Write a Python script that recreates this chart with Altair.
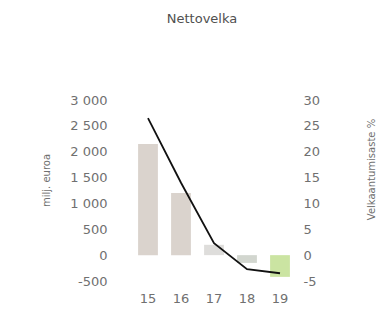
import altair as alt
import pandas as pd

years = ["15", "16", "17", "18", "19"]
debt = [2150, 1200, 200, -150, -420]
ratio = [26.5, 14.0, 2.3, -2.7, -3.5]
bar_colors = ["#dad3cd", "#dad3cd", "#dedddb", "#d2d6cf", "#cbe4a2"]
left_ticks = [-500, 0, 500, 1000, 1500, 2000, 2500, 3000]
right_ticks = [-5, 0, 5, 10, 15, 20, 25, 30]

df = pd.DataFrame({"year": years, "debt": debt, "ratio": ratio, "color": bar_colors})

FONT = "DejaVu Sans"
LBL = "#707070"

x = alt.X("year:N", title=None, sort=years,
          scale=alt.Scale(paddingInner=0.4, paddingOuter=0.215),
          axis=alt.Axis(labelAngle=0, labelPadding=11))

bars = alt.Chart(df).mark_bar().encode(
    x=x,
    y=alt.Y("debt:Q", scale=alt.Scale(domain=[-500, 3000], nice=False),
            axis=alt.Axis(orient="left", values=left_ticks,
                          labelExpr="abs(datum.value) >= 1000 ? floor(datum.value/1000) + ' ' + slice('00' + (datum.value % 1000), -3) : '' + datum.value",
                          labelPadding=24, title="milj. euroa", titleX=-85, titleY=80,
                          titleAngle=-90, titleAlign="center", titleBaseline="middle",
                          titleFontSize=10)),
    color=alt.Color("color:N", scale=None),
)

line = alt.Chart(df).mark_line(color="#111111", strokeWidth=1.8).encode(
    x=x,
    y=alt.Y("ratio:Q", scale=alt.Scale(domain=[-5, 30], nice=False),
            axis=alt.Axis(orient="right", values=right_ticks,
                          labelExpr="'' + datum.value",
                          labelPadding=6, title="Velkaantumisaste %", titleX=74, titleY=69,
                          titleAngle=-90, titleAlign="center", titleBaseline="middle",
                          titleFontSize=10)),
)

chart = alt.layer(bars, line).resolve_scale(y="independent").properties(
    width=166, height=181,
    title=alt.TitleParams("Nettovelka", anchor="middle", offset=68, dx=-12,
                          fontSize=13, fontWeight="normal", color="#505050", font=FONT),
    autosize=alt.AutoSizeParams(type="none"),
    padding={"left": 123, "top": 92, "right": 80, "bottom": 30},
).configure_axis(
    domain=False, ticks=False, grid=False,
    labelColor=LBL, labelFont=FONT, labelFontSize=13,
    titleColor=LBL, titleFont=FONT, titleFontWeight="normal",
).configure_view(stroke=None)

chart.save("out.html", embed_options={"renderer": "svg", "actions": False})
